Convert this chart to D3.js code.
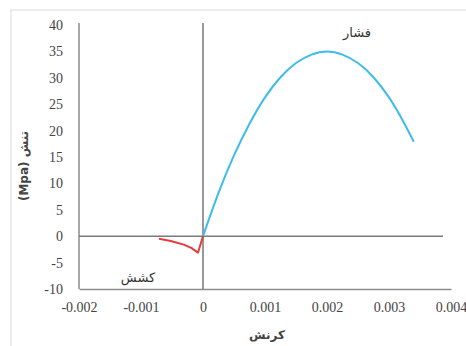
<!DOCTYPE html>
<html>
<head>
<meta charset="utf-8">
<script src="https://cdn.jsdelivr.net/npm/d3@7"></script>
<style>
  html, body { margin: 0; padding: 0; background: #fff; }
  svg { display: block; }
</style>
</head>
<body>
<svg id="chart" width="466" height="346"></svg>
<script>
// Stress–strain readings (strain, stress in MPa)
const compressionStrain = [0, 0.00025, 0.0005, 0.00075, 0.001, 0.00125, 0.0015, 0.00175, 0.002, 0.00225, 0.0025, 0.00275, 0.003, 0.0032, 0.0034];
const compressionStress = [0, 8.2, 15.3, 21.3, 26.3, 30.1, 32.8, 34.4, 35.0, 34.4, 32.8, 30.1, 26.3, 22.4, 17.9];

const tensionStrain = [-0.00071, -0.00052, -0.00031, -0.00019, -0.00008, 0];
const tensionStress = [-0.5, -0.9, -1.6, -2.2, -3.1, 0];

const xTicks = [-0.002, -0.001, 0, 0.001, 0.002, 0.003, 0.004];
const yTicks = [-10, -5, 0, 5, 10, 15, 20, 25, 30, 35, 40];

const xTitle = "کرنش";
const yTitle = "(Mpa) تنش";
const compressionLabel = "فشار";
const tensionLabel = "کشش";

const svg = d3.select("#chart");
const W = 466, H = 346;
const plotLeft = 79, plotRight = 451, plotTop = 25, plotBottom = 289;

// Chart frame
svg.append("rect")
  .attr("x", 11).attr("y", 10)
  .attr("width", W).attr("height", H)
  .attr("fill", "#fff").attr("stroke", "#d9d9d9").attr("stroke-width", 1);

const x = d3.scaleLinear().domain([-0.002, 0.004]).range([plotLeft, plotRight]);
const y = d3.scaleLinear().domain([-10, 40]).range([plotBottom, plotTop]);

const textFont = "DejaVu Sans, Liberation Sans, sans-serif";
const tickFont = "'Liberation Serif', 'DejaVu Serif', 'Times New Roman', serif";

function styleTicks(g) {
  g.selectAll(".tick text")
    .style("font-family", tickFont)
    .style("font-size", "14px")
    .style("fill", "#444");
}

// Left axis
const yAxis = svg.append("g")
  .attr("transform", `translate(${plotLeft},0)`)
  .call(d3.axisLeft(y).tickValues(yTicks).tickSize(0).tickPadding(16).tickFormat(d => String(d)))
  .call(styleTicks);
yAxis.select(".domain").attr("stroke", "#8c8c8c").attr("stroke-width", 1.5)
  .attr("d", `M0,${plotTop - 2}V${plotBottom}`);

// Bottom axis
const xAxis = svg.append("g")
  .attr("transform", `translate(0,${plotBottom})`)
  .call(d3.axisBottom(x).tickValues(xTicks).tickSize(0).tickPadding(13)
    .tickFormat(d => d === 0 ? "0" : d3.format(".3f")(d).replace("−", "-")))
  .call(styleTicks);
xAxis.select(".domain").attr("stroke", "#8c8c8c").attr("stroke-width", 1.5);

// Zero axes
svg.append("line")
  .attr("x1", plotLeft).attr("x2", plotRight - 8)
  .attr("y1", y(0)).attr("y2", y(0))
  .attr("stroke", "#7a7a7a").attr("stroke-width", 1.5);
svg.append("line")
  .attr("x1", x(0)).attr("x2", x(0))
  .attr("y1", plotTop - 2).attr("y2", plotBottom)
  .attr("stroke", "#555").attr("stroke-width", 1.2);

const line = d3.line().x(d => x(d[0])).y(d => y(d[1])).curve(d3.curveNatural);

svg.append("path")
  .datum(compressionStrain.map((s, i) => [s, compressionStress[i]]))
  .attr("d", line)
  .attr("fill", "none").attr("stroke", "#3dbcec").attr("stroke-width", 2);

svg.append("path")
  .datum(tensionStrain.map((s, i) => [s, tensionStress[i]]))
  .attr("d", d3.line().x(d => x(d[0])).y(d => y(d[1])).curve(d3.curveLinear))
  .attr("fill", "none").attr("stroke", "#e53a3a").attr("stroke-width", 2)
  .attr("stroke-linejoin", "round");

// Annotations
svg.append("text")
  .attr("x", 357).attr("y", 37)
  .attr("text-anchor", "middle")
  .attr("font-family", textFont).attr("font-size", 13).attr("fill", "#333")
  .text(compressionLabel);
svg.append("text")
  .attr("x", 138).attr("y", 282)
  .attr("text-anchor", "middle")
  .attr("font-family", textFont).attr("font-size", 13).attr("fill", "#333")
  .text(tensionLabel);

// Axis titles
svg.append("text")
  .attr("x", (plotLeft + plotRight) / 2 + 2).attr("y", 339)
  .attr("text-anchor", "middle")
  .attr("font-family", textFont).attr("font-size", 12).attr("font-weight", "bold").attr("fill", "#444")
  .text(xTitle);
svg.append("text")
  .attr("transform", `translate(28,166) rotate(-90)`)
  .attr("text-anchor", "middle")
  .attr("font-family", textFont).attr("font-size", 12).attr("font-weight", "bold").attr("fill", "#444")
  .text(yTitle);
</script>
</body>
</html>
